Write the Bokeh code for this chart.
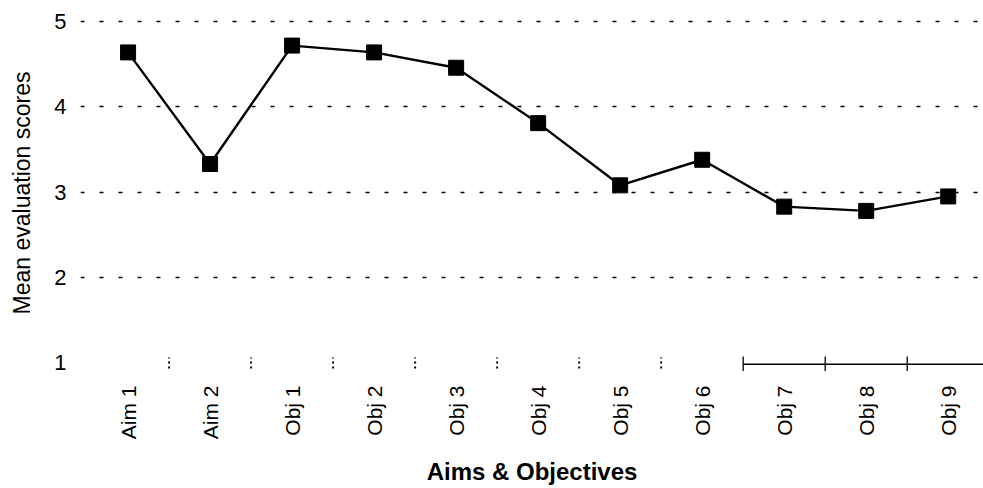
import math
from bokeh.plotting import figure
from bokeh.models import FixedTicker, Range1d
from bokeh.embed import file_html
from bokeh.resources import INLINE

# ---- data ----
categories = ["Aim 1", "Aim 2", "Obj 1", "Obj 2", "Obj 3", "Obj 4",
              "Obj 5", "Obj 6", "Obj 7", "Obj 8", "Obj 9"]
scores = [4.64, 3.33, 4.72, 4.64, 4.46, 3.81, 3.08, 3.38, 2.83, 2.78, 2.95]
y_ticks = [1, 2, 3, 4, 5]
grid_ticks = [2, 3, 4, 5]
x_title = "Aims & Objectives"
y_title = "Mean evaluation scores"

FONT = "Liberation Sans"

x = list(range(1, len(categories) + 1))
x_start = x[0] - 0.58
x_end = x[-1] + 0.43
y_base = y_ticks[0]

p = figure(width=983, height=488, output_backend="svg", toolbar_location=None,
           x_range=Range1d(x_start, x_end), y_range=Range1d(0.86, 5.12),
           min_border_left=80, min_border_right=0, min_border_top=11,
           min_border_bottom=111)
p.outline_line_color = None
p.background_fill_color = "white"
p.border_fill_color = "white"

# grid
p.xgrid.visible = False
p.ygrid.ticker = FixedTicker(ticks=grid_ticks)
p.ygrid.grid_line_color = "black"
p.ygrid.grid_line_dash = "4 15"
p.ygrid.grid_line_width = 1.6

# y axis
yax = p.yaxis[0]
yax.ticker = FixedTicker(ticks=y_ticks)
yax.axis_line_color = None
yax.major_tick_line_color = None
yax.minor_tick_line_color = None
yax.major_tick_out = 0
yax.major_tick_in = 0
yax.major_label_standoff = 14
yax.major_label_text_font = FONT
yax.major_label_text_font_size = "22px"
yax.major_label_text_color = "black"
yax.axis_label = y_title
yax.axis_label_text_font = FONT
yax.axis_label_text_font_size = "23px"
yax.axis_label_text_font_style = "normal"
yax.axis_label_text_color = "black"
yax.axis_label_standoff = 16

# x axis
xax = p.xaxis[0]
xax.ticker = FixedTicker(ticks=x)
xax.major_label_overrides = {i: c for i, c in zip(x, categories)}
xax.axis_line_color = None
xax.major_tick_line_color = None
xax.minor_tick_line_color = None
xax.major_tick_out = 0
xax.major_tick_in = 0
xax.major_label_orientation = math.pi / 2
xax.major_label_standoff = 11
xax.major_label_text_font = FONT
xax.major_label_text_font_size = "21px"
xax.major_label_text_color = "black"
xax.axis_label = x_title
xax.axis_label_text_font = FONT
xax.axis_label_text_font_size = "24px"
xax.axis_label_text_font_style = "bold"
xax.axis_label_text_color = "black"
xax.axis_label_standoff = 16

# category boundary ticks on the base line
split = categories.index("Obj 7")
bounds = [v + 0.5 for v in x[:-1]]
dashed_b = [b for b in bounds if b < x[split] - 0.5]
solid_b = [b for b in bounds if b >= x[split] - 0.5]
p.segment(x0=dashed_b, y0=[y_base - 0.07] * len(dashed_b),
          x1=dashed_b, y1=[y_base + 0.06] * len(dashed_b),
          line_color="black", line_width=2, line_dash="2 3")
p.segment(x0=solid_b, y0=[y_base - 0.1] * len(solid_b),
          x1=solid_b, y1=[y_base + 0.07] * len(solid_b),
          line_color="black", line_width=1.3)
p.segment(x0=[x[split] - 0.5], y0=[y_base - 0.02], x1=[x_end], y1=[y_base - 0.02],
          line_color="black", line_width=1.6)

# series
p.line(x, scores, line_color="black", line_width=2.4)
p.scatter(x, scores, marker="square", size=15, fill_color="black",
          line_color="black")

open("out.html", "w").write(file_html(p, INLINE))
